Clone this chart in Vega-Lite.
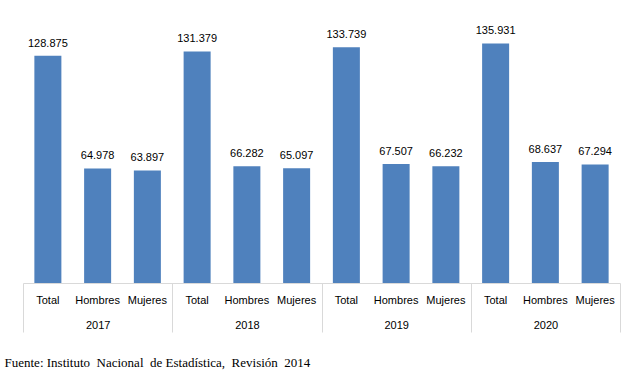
{
  "$schema": "https://vega.github.io/schema/vega-lite/v6.json",
  "width": 597,
  "height": 282,
  "autosize": "none",
  "padding": {"left": 23, "top": 1, "right": 20, "bottom": 96},
  "background": "white",
  "config": {
    "view": {"stroke": null},
    "locale": {"number": {"decimal": ",", "thousands": ".", "grouping": [3], "currency": ["", ""]}},
    "font": "Liberation Sans"
  },
  "title": {
    "text": "Fuente: Instituto\u00a0\u00a0Nacional\u00a0 de Estadística,\u00a0\u00a0Revisión\u00a0\u00a02014",
    "orient": "bottom",
    "anchor": "start",
    "font": "Liberation Serif",
    "fontSize": 13,
    "fontWeight": "normal",
    "color": "#000000",
    "dx": -18,
    "offset": 24
  },
  "data": {
    "values": [
      {"year": "2017", "cat": "Total", "key": "2017-Total", "value": 128875},
      {"year": "2017", "cat": "Hombres", "key": "2017-Hombres", "value": 64978},
      {"year": "2017", "cat": "Mujeres", "key": "2017-Mujeres", "value": 63897},
      {"year": "2018", "cat": "Total", "key": "2018-Total", "value": 131379},
      {"year": "2018", "cat": "Hombres", "key": "2018-Hombres", "value": 66282},
      {"year": "2018", "cat": "Mujeres", "key": "2018-Mujeres", "value": 65097},
      {"year": "2019", "cat": "Total", "key": "2019-Total", "value": 133739},
      {"year": "2019", "cat": "Hombres", "key": "2019-Hombres", "value": 67507},
      {"year": "2019", "cat": "Mujeres", "key": "2019-Mujeres", "value": 66232},
      {"year": "2020", "cat": "Total", "key": "2020-Total", "value": 135931},
      {"year": "2020", "cat": "Hombres", "key": "2020-Hombres", "value": 68637},
      {"year": "2020", "cat": "Mujeres", "key": "2020-Mujeres", "value": 67294}
    ]
  },
  "layer": [
    {
      "layer": [
        {
          "mark": {"type": "bar", "color": "#4f81bd"},
          "encoding": {
            "x": {
              "field": "key", "type": "nominal", "sort": null,
              "scale": {"paddingInner": 0.457, "paddingOuter": 0.2285},
              "axis": {
                "orient": "bottom",
                "title": null,
                "labelExpr": "split(datum.value, '-')[1]",
                "labelAngle": 0,
                "ticks": false,
                "tickSize": 0,
                "labelPadding": 11,
                "labelFontSize": 11,
                "labelColor": "#000000",
                "labelFont": "Liberation Sans",
                "domainColor": "#d9d9d9",
                "domainWidth": 1
              }
            },
            "y": {
              "field": "value", "type": "quantitative",
              "scale": {"domain": [0, 160000], "nice": false},
              "axis": null
            }
          }
        },
        {
          "mark": {"type": "text", "baseline": "alphabetic", "dy": -9, "fontSize": 11, "font": "Liberation Sans", "color": "#000000"},
          "encoding": {
            "x": {"field": "key", "type": "nominal", "sort": null},
            "y": {"field": "value", "type": "quantitative"},
            "text": {"field": "value", "type": "quantitative", "format": ",d"}
          }
        }
      ]
    },
    {
      "mark": {"type": "rule", "opacity": 0},
      "encoding": {
        "x": {
          "field": "year", "type": "nominal", "sort": null,
          "scale": {"paddingInner": 0, "paddingOuter": 0},
          "axis": {
            "orient": "bottom",
            "title": null,
            "labelAngle": 0,
            "domain": false,
            "ticks": true,
            "tickBand": "extent",
            "tickSize": 49,
            "tickColor": "#d9d9d9",
            "tickWidth": 1,
            "labelPadding": -13,
            "labelFontSize": 11,
            "labelColor": "#000000",
            "labelFont": "Liberation Sans"
          }
        }
      }
    }
  ],
  "resolve": {"scale": {"x": "independent"}, "axis": {"x": "independent"}}
}
